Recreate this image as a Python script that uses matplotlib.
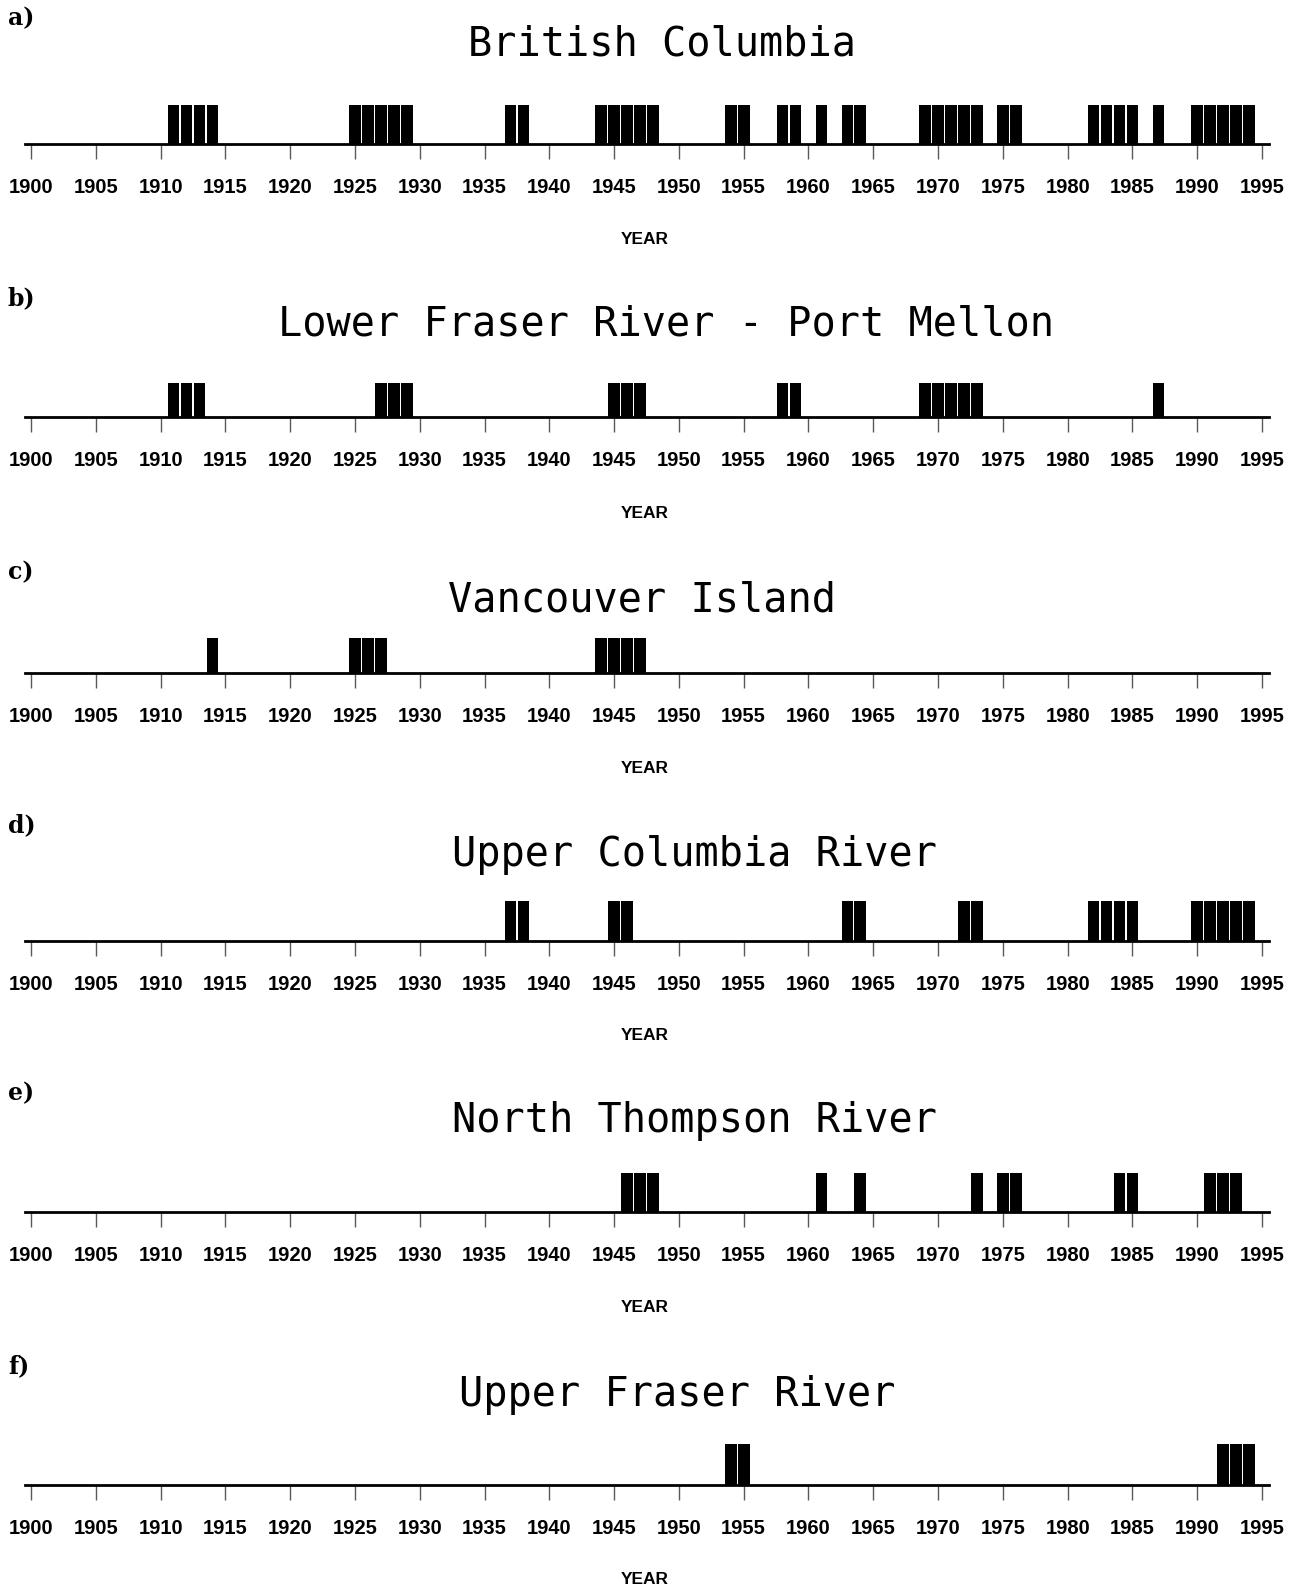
import matplotlib
matplotlib.use("Agg")
import matplotlib.pyplot as plt

# ---- data: years with events in each region ----
panel_letters = ["a)", "b)", "c)", "d)", "e)", "f)"]
titles = ["British Columbia",
          "Lower Fraser River - Port Mellon",
          "Vancouver Island",
          "Upper Columbia River",
          "North Thompson River",
          "Upper Fraser River"]
years_bc = [1911, 1912, 1913, 1914, 1925, 1926, 1927, 1928, 1929, 1937, 1938,
            1944, 1945, 1946, 1947, 1948, 1954, 1955, 1958, 1959, 1961, 1963, 1964,
            1969, 1970, 1971, 1972, 1973, 1975, 1976, 1982, 1983, 1984, 1985, 1987,
            1990, 1991, 1992, 1993, 1994]
years_lfr = [1911, 1912, 1913, 1927, 1928, 1929, 1945, 1946, 1947, 1958, 1959,
             1969, 1970, 1971, 1972, 1973, 1987]
years_vi = [1914, 1925, 1926, 1927, 1944, 1945, 1946, 1947]
years_ucr = [1937, 1938, 1945, 1946, 1963, 1964, 1972, 1973, 1982, 1983, 1984, 1985,
             1990, 1991, 1992, 1993, 1994]
years_ntr = [1946, 1947, 1948, 1961, 1964, 1973, 1975, 1976, 1984, 1985,
             1991, 1992, 1993]
years_ufr = [1954, 1955, 1992, 1993, 1994]
all_years = [years_bc, years_lfr, years_vi, years_ucr, years_ntr, years_ufr]
tick_years = list(range(1900, 1996, 5))
x_label = "YEAR"

# ---- layout (pixels, top-origin) ----
W, H = 1300, 1593
fig = plt.figure(figsize=(W / 100, H / 100), dpi=100)

label_y = [18, 298, 572, 825, 1093, 1366]
title_y = [45, 325, 601, 855, 1121, 1395]
title_x = [662, 666, 642, 695, 694, 677]
top_y = [105, 383, 638, 901, 1173, 1444]
base_y = [144, 417, 673, 941, 1212, 1485]
year_y = [240, 514, 769, 1035, 1308, 1580]

x0_px, x1_px = 24.5, 1268.5   # positions of 1899.5 and 1995.5

for i in range(6):
    left = x0_px / W
    width = (x1_px - x0_px) / W
    bottom = 1 - base_y[i] / H
    height = (base_y[i] - top_y[i]) / H
    ax = fig.add_axes([left, bottom, width, height])
    ax.bar(all_years[i], [1] * len(all_years[i]), width=0.9, color="black",
           edgecolor="none", align="center")
    ax.set_xlim(1899.5, 1995.5)
    ax.set_ylim(0, 1)
    for s in ["top", "left", "right"]:
        ax.spines[s].set_visible(False)
    ax.spines["bottom"].set_linewidth(2.0)
    ax.set_yticks([])
    ax.set_xticks(tick_years)
    ax.set_xticklabels([str(y) for y in tick_years], fontsize=14.5,
                       family="Liberation Sans", fontweight="bold")
    ax.tick_params(axis="x", direction="out", length=10.8, width=1.0,
                   color="0.35", pad=13.5)
    ax.patch.set_visible(False)

    fig.text(8 / W, 1 - label_y[i] / H, panel_letters[i], fontsize=17,
             family="DejaVu Serif", fontweight="bold", ha="left", va="center")
    fig.text(title_x[i] / W, 1 - title_y[i] / H, titles[i], fontsize=29,
             family="DejaVu Sans Mono", ha="center", va="center")
    fig.text(645 / W, 1 - year_y[i] / H, x_label, fontsize=12.5,
             family="Liberation Sans", fontweight="bold", ha="center", va="center")

fig.savefig("out.png", dpi=100)
